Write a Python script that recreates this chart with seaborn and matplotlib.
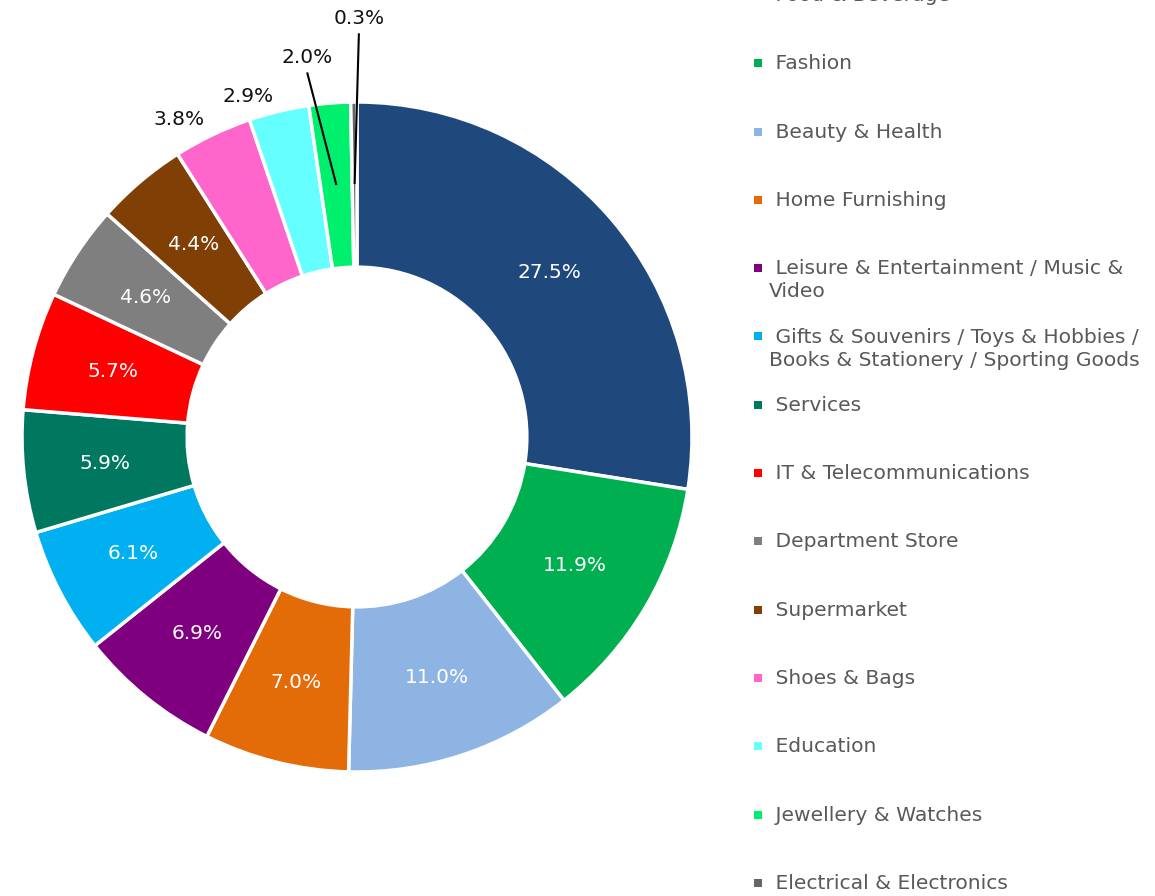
import matplotlib
matplotlib.use("Agg")
import matplotlib.pyplot as plt
from matplotlib.patches import Rectangle
import numpy as np
import seaborn as sns

# Share of retail outlets by trade category
categories = [
    "Food & Beverage",
    "Fashion",
    "Beauty & Health",
    "Home Furnishing",
    "Leisure & Entertainment / Music &\nVideo",
    "Gifts & Souvenirs / Toys & Hobbies /\nBooks & Stationery / Sporting Goods",
    "Services",
    "IT & Telecommunications",
    "Department Store",
    "Supermarket",
    "Shoes & Bags",
    "Education",
    "Jewellery & Watches",
    "Electrical & Electronics",
]
shares = [27.5, 11.9, 11.0, 7.0, 6.9, 6.1, 5.9, 5.7, 4.6, 4.4, 3.8, 2.9, 2.0, 0.3]
slice_colors = [
    "#1F497D", "#00B050", "#8EB4E3", "#E36C09", "#7F007F", "#00B0F0", "#007860",
    "#FF0000", "#7F7F7F", "#7F3F05", "#FF66CC", "#66FFFF", "#00F06E", "#666666",
]

sns.set_theme(style="white")
plt.rcParams["font.family"] = ["DejaVu Sans"]

W, H = 1155, 896
fig = plt.figure(figsize=(W / 100, H / 100), dpi=100)
fig.patch.set_facecolor("white")

# Donut axes: centre at (357, 437) px, outer radius 335 px
cx, cy, R, half = 357, 437, 335, 340
ax = fig.add_axes([(cx - half) / W, (H - cy - half) / H, 2 * half / W, 2 * half / H])
palette = sns.color_palette(slice_colors)
wedges, _ = ax.pie(
    shares, colors=palette, startangle=90, counterclock=False, radius=1.0,
    wedgeprops=dict(width=0.493, edgecolor="white", linewidth=2.5),
)
lim = half / R
ax.set_xlim(-lim, lim)
ax.set_ylim(-lim, lim)
ax.axis("off")

label_fs = 14.5
mid_r = 0.755
# Outside labels for the thin slices: (radius, angular shift in degrees, leader)
outside = {
    10: (1.085, 3.7, False),
    11: (1.066, 4.3, False),
    12: (1.143, 2.8, True),
    13: (1.25, -0.8, True),
}
for i, (w, v) in enumerate(zip(wedges, shares)):
    theta = np.deg2rad((w.theta1 + w.theta2) / 2)
    txt = f"{v:.1f}%"
    if i in outside:
        r, shift, leader = outside[i]
        t2 = theta + np.deg2rad(shift)
        lx, ly = r * np.cos(t2), r * np.sin(t2)
        ax.text(lx, ly, txt, ha="center", va="center", fontsize=label_fs,
                color="#111111", clip_on=False)
        if leader:
            px, py = mid_r * np.cos(theta), mid_r * np.sin(theta)
            ax.plot([lx, px], [ly - 0.045, py], color="black", lw=1.5,
                    clip_on=False, solid_capstyle="butt")
    else:
        ax.text(mid_r * np.cos(theta), mid_r * np.sin(theta), txt,
                ha="center", va="center", fontsize=label_fs, color="white")

# Legend column on the right; the first entry runs off the top edge
leg_x_marker, leg_x_text = 758, 769
y0, dy = -5, 68.3
lift = 9  # px from first-line centre to text box top
for i, (name, col) in enumerate(zip(categories, palette)):
    yc = y0 + i * dy
    fig.add_artist(Rectangle(((leg_x_marker - 4) / W, (H - yc - 4) / H),
                             8 / W, 8 / H, transform=fig.transFigure,
                             facecolor=col, edgecolor="none"))
    fig.text(leg_x_text / W, (H - yc + lift) / H, " " + name, ha="left",
             va="top", fontsize=14.6, color="#595959", linespacing=1.28,
             transform=fig.transFigure)

fig.savefig("out.png", dpi=100, facecolor="white")
